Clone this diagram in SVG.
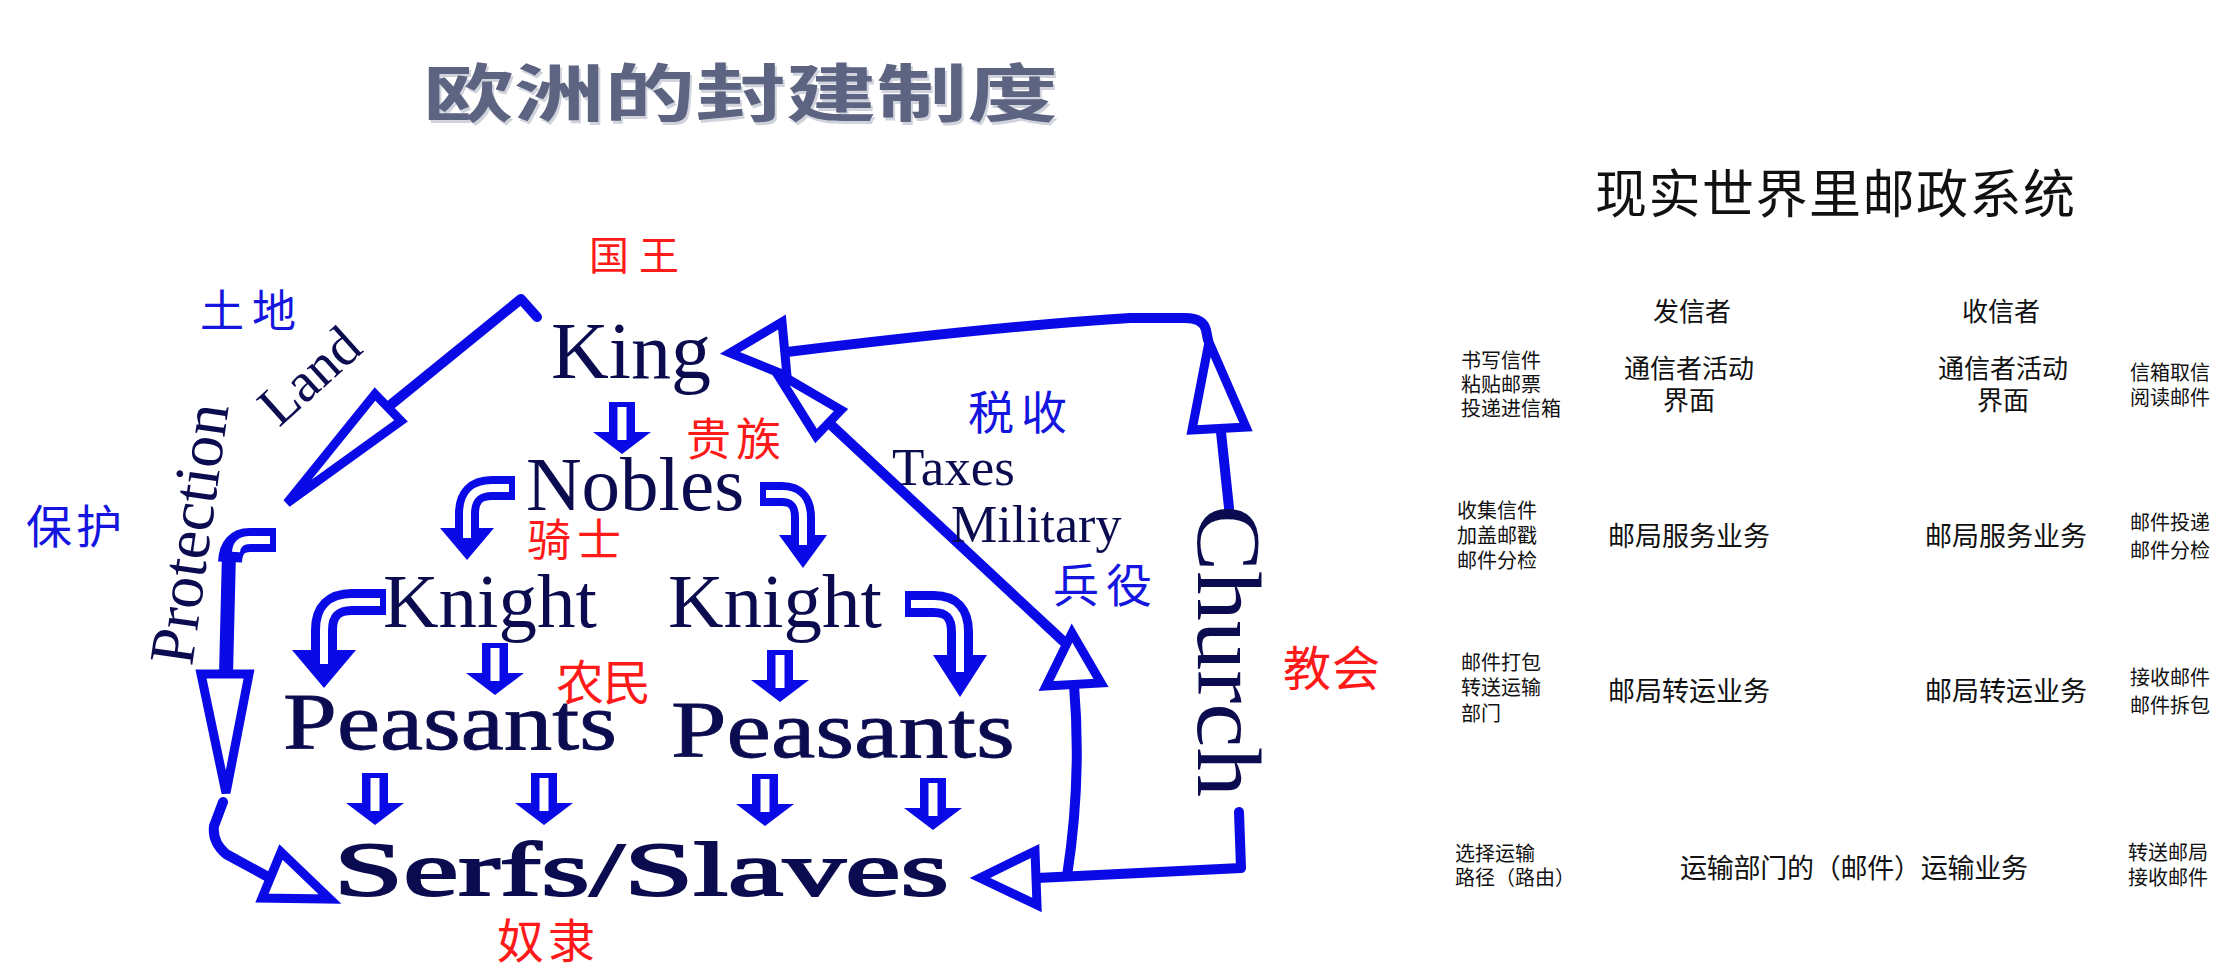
<svg xmlns="http://www.w3.org/2000/svg" width="2227" height="977" viewBox="0 0 2227 977">
<defs>
<style>
.en{font-family:"Liberation Serif","Times New Roman",serif;fill:#0b0b4f}
.cn{font-family:"Noto Sans CJK SC",sans-serif}
.red{fill:#ff1a1a}
.blu{fill:#1515e0}
.rt{font-family:"Noto Sans CJK SC",sans-serif;fill:#111}
.ln{fill:none;stroke:#0a0ae6;stroke-width:10;stroke-linejoin:round;stroke-linecap:round}
.tri{fill:#fff;stroke:#0a0ae6;stroke-width:9;stroke-linejoin:miter}
.band{fill:none;stroke:#0a0ae6;stroke-width:24}
.slit{fill:none;stroke:#fff;stroke-width:8}
.hd{fill:#0a0ae6}
</style>
<g id="dn"><path d="M-13,0H13V30H29L0,52L-29,30H-13Z" fill="#0a0ae6"/><rect x="-4.5" y="5" width="9" height="33" fill="#fff"/></g>
</defs>
<rect width="2227" height="977" fill="#fff"/>

<g id="title-left">
<text x="425" y="119" class="cn" font-size="63" font-weight="bold" fill="#d0d3dc" textLength="635" lengthAdjust="spacingAndGlyphs">欧洲的封建制度</text>
<text x="423" y="116" class="cn" font-size="63" font-weight="bold" fill="#5d6482" textLength="635" lengthAdjust="spacingAndGlyphs">欧洲的封建制度</text>
</g>

<g id="connectors">
<!-- Land: King to Protection corner -->
<path class="ln" d="M537,317 L521,299 L388,407"/>
<polygon class="tri" points="375,394 401,421 287,503"/>
<!-- Protection -->
<path class="ln" style="stroke-width:14;stroke-linecap:butt" d="M229,552 L226,675"/>
<path class="band" d="M276,540 H250 Q231,540 230,562"/>
<path class="slit" d="M270,540 H250 Q237,540 236,552"/>
<polygon class="tri" points="201,674 249,674 226,793"/>
<path class="ln" d="M223,802 L214,826 Q212,842 226,854 L270,878"/>
<polygon class="tri" points="281,852 262,898 330,899"/>
<!-- Church to King -->
<path class="ln" d="M1229,508 L1221,432"/>
<polygon class="tri" points="1192,430 1246,427 1209,342"/>
<path class="ln" d="M1208,340 L1206,330 Q1203,318 1185,318 L1130,318 Q1000,326 787,352"/>
<polygon class="tri" points="782,322 787,376 730,353"/>
<!-- Church to Serfs, Taxes/Military to King -->
<path class="ln" d="M1239,812 L1241,868 L1037,878"/>
<polygon class="tri" points="1035,851 1037,905 980,878"/>
<path class="ln" d="M1067,876 Q1082,780 1074,685"/>
<polygon class="tri" points="1046,686 1101,683 1072,633"/>
<path class="ln" d="M1063,641 L829,423"/>
<polygon class="tri" points="841,410 816,436 776,372"/>
<!-- straight block arrows -->
<use href="#dn" x="622" y="402"/>
<use href="#dn" x="495" y="643"/>
<use href="#dn" x="780" y="650"/>
<use href="#dn" x="375" y="773"/>
<use href="#dn" x="544" y="773"/>
<use href="#dn" x="765" y="774"/>
<use href="#dn" x="933" y="778"/>
<!-- bent block arrows -->
<path class="band" d="M515,488 H492 Q467,488 467,514 V532"/>
<polygon class="hd" points="440,528 494,528 467,560"/>
<path class="slit" d="M509,488 H492 Q467,488 467,514 V538"/>
<path class="band" d="M760,494 H782 Q803,494 803,518 V537"/>
<polygon class="hd" points="779,535 827,535 803,568"/>
<path class="slit" d="M766,494 H782 Q803,494 803,518 V545"/>
<path class="band" style="stroke-width:26" d="M386,602 H352 Q324,602 324,630 V654"/>
<polygon class="hd" points="292,650 356,650 324,688"/>
<path class="slit" d="M380,602 H352 Q324,602 324,630 V664"/>
<path class="band" style="stroke-width:26" d="M905,604 H934 Q960,604 960,632 V657"/>
<polygon class="hd" points="933,655 987,655 960,697"/>
<path class="slit" d="M911,604 H934 Q960,604 960,632 V672"/>
</g>

<g id="king"><text class="en" x="551" y="378" font-size="80">King</text>
<text class="cn red" x="589" y="270" font-size="40" textLength="90">国王</text></g>
<g id="nobles"><text class="en" x="526" y="510" font-size="77">Nobles</text>
<text class="cn red" x="686" y="456" font-size="45" textLength="95">贵族</text></g>
<g id="knight-left"><text class="en" x="383" y="627" font-size="77">Knight</text>
<text class="cn red" x="527" y="556" font-size="44" textLength="94">骑士</text></g>
<g id="knight-right"><text class="en" x="668" y="627" font-size="77">Knight</text></g>
<g id="peasants-left"><text class="en" x="283" y="749" font-size="80" textLength="334" lengthAdjust="spacingAndGlyphs" stroke="#0b0b4f" stroke-width="0.8">Peasants</text>
<text class="cn red" x="556" y="700" font-size="48" textLength="95">农民</text></g>
<g id="peasants-right"><text class="en" x="671" y="757" font-size="80" textLength="344" lengthAdjust="spacingAndGlyphs" stroke="#0b0b4f" stroke-width="0.8">Peasants</text></g>
<g id="serfs"><text class="en" x="334" y="895" font-size="76" textLength="615" lengthAdjust="spacingAndGlyphs" stroke="#0b0b4f" stroke-width="2">Serfs/Slaves</text>
<text class="cn red" x="497" y="958" font-size="47" textLength="98">奴隶</text></g>
<g id="church"><text class="en" transform="translate(1198,505) rotate(90)" font-size="90" textLength="292" lengthAdjust="spacingAndGlyphs">Church</text>
<text class="cn red" x="1283" y="686" font-size="48" textLength="97">教会</text></g>

<g id="label-land"><text class="en" transform="translate(279,428) rotate(-42)" font-size="56">Land</text>
<text class="cn blu" x="200" y="327" font-size="44" textLength="96">土地</text></g>
<g id="label-protection"><text class="en" transform="translate(192,667) rotate(-82)" font-size="64">Protection</text>
<text class="cn blu" x="26" y="543" font-size="46" textLength="96">保护</text></g>
<g id="label-taxes"><text class="en" x="892" y="485" font-size="53">Taxes</text>
<text class="cn blu" x="968" y="429" font-size="46" textLength="99">税收</text></g>
<g id="label-military"><text class="en" x="951" y="542" font-size="52">Military</text>
<text class="cn blu" x="1053" y="602" font-size="46" textLength="99">兵役</text></g>

<g id="postal">
<text class="rt" x="1595" y="213" font-size="52" textLength="480">现实世界里邮政系统</text>
<text class="rt" x="1653" y="321" font-size="26">发信者</text>
<text class="rt" x="1962" y="321" font-size="26">收信者</text>
<g id="row1">
<text class="rt" x="1461" y="368" font-size="20">书写信件</text>
<text class="rt" x="1461" y="392" font-size="20">粘贴邮票</text>
<text class="rt" x="1461" y="416" font-size="20">投递进信箱</text>
<text class="rt" x="1689" y="378" font-size="26" text-anchor="middle">通信者活动</text>
<text class="rt" x="1689" y="410" font-size="26" text-anchor="middle">界面</text>
<text class="rt" x="2003" y="378" font-size="26" text-anchor="middle">通信者活动</text>
<text class="rt" x="2003" y="410" font-size="26" text-anchor="middle">界面</text>
<text class="rt" x="2130" y="380" font-size="20">信箱取信</text>
<text class="rt" x="2130" y="405" font-size="20">阅读邮件</text>
</g>
<g id="row2">
<text class="rt" x="1457" y="518" font-size="20">收集信件</text>
<text class="rt" x="1457" y="543" font-size="20">加盖邮戳</text>
<text class="rt" x="1457" y="568" font-size="20">邮件分检</text>
<text class="rt" x="1608" y="546" font-size="27">邮局服务业务</text>
<text class="rt" x="1925" y="546" font-size="27">邮局服务业务</text>
<text class="rt" x="2130" y="530" font-size="20">邮件投递</text>
<text class="rt" x="2130" y="558" font-size="20">邮件分检</text>
</g>
<g id="row3">
<text class="rt" x="1461" y="670" font-size="20">邮件打包</text>
<text class="rt" x="1461" y="695" font-size="20">转送运输</text>
<text class="rt" x="1461" y="721" font-size="20">部门</text>
<text class="rt" x="1608" y="701" font-size="27">邮局转运业务</text>
<text class="rt" x="1925" y="701" font-size="27">邮局转运业务</text>
<text class="rt" x="2130" y="685" font-size="20">接收邮件</text>
<text class="rt" x="2130" y="713" font-size="20">邮件拆包</text>
</g>
<g id="row4">
<text class="rt" x="1455" y="861" font-size="20">选择运输</text>
<text class="rt" x="1455" y="885" font-size="20">路径（路由）</text>
<text class="rt" x="1680" y="878" font-size="27" textLength="348">运输部门的（邮件）运输业务</text>
<text class="rt" x="2128" y="860" font-size="20">转送邮局</text>
<text class="rt" x="2128" y="885" font-size="20">接收邮件</text>
</g>
</g>
</svg>
